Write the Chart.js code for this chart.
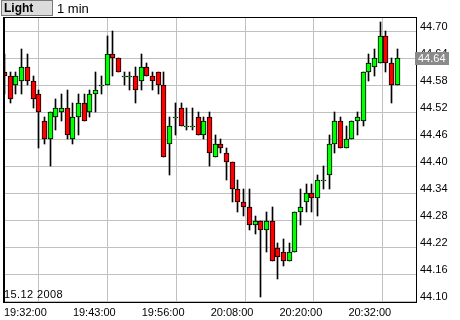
<!DOCTYPE html>
<html><head><meta charset="utf-8">
<script src="https://cdn.jsdelivr.net/npm/chart.js@4"></script>
<style>
html,body{margin:0;padding:0;background:#fff;}
#wrap{position:relative;width:460px;height:320px;overflow:hidden;background:#fff;}
#c{position:absolute;left:0;top:0;}
#btn{position:absolute;left:1px;top:0px;width:52px;height:16px;box-sizing:border-box;background:#dcdcdc;border:1px solid #7a7a7a;}
#btnText{position:absolute;left:4px;top:1px;font:bold 12px "Liberation Sans";line-height:14px;color:#000;}
#interval{position:absolute;left:57px;top:1px;font:13px "Liberation Sans";line-height:15px;color:#000;}
#date{position:absolute;left:4px;top:288px;font:11px "Liberation Sans";line-height:13px;color:#000;letter-spacing:0.4px;}
</style></head>
<body>
<div id="wrap">
<canvas id="c" width="460" height="320"></canvas>
<div id="btn"></div><div id="btnText">Light</div>
<div id="interval"></div>
<div id="date"></div>
</div>
<script>
const styleName = 'Light';
const intervalLabel = '1 min';
const dateLabel = '15.12 2008';
const timeLabels = ['19:32:00','19:43:00','19:56:00','20:08:00','20:20:00','20:32:00'];
const priceTicks = [44.10,44.16,44.22,44.28,44.34,44.40,44.46,44.52,44.58,44.64,44.70];

const open  = [44.61,44.60,44.58,44.59,44.62,44.59,44.56,44.50,44.46,44.51,44.52,44.53,44.46,44.51,44.54,44.52,44.56,44.58,44.58,44.65,
               44.64,44.60,44.60,44.60,44.59,44.62,44.60,44.61,44.58,44.45,44.51,44.53,44.49,44.49,44.51,44.47,44.51,44.42,44.45,44.43,
               44.41,44.35,44.32,44.31,44.27,44.28,44.26,44.28,44.22,44.21,44.19,44.21,44.30,44.32,44.34,44.33,44.37,44.38,44.45,44.50,
               44.44,44.46,44.50,44.50,44.61,44.62,44.63,44.69,44.63,44.58];
const high  = [44.65,44.61,44.61,44.66,44.65,44.60,44.57,44.51,44.52,44.55,44.56,44.57,44.54,44.56,44.56,44.57,44.61,44.60,44.69,44.70,
               44.64,44.61,44.61,44.62,44.65,44.63,44.61,44.61,44.61,44.51,44.54,44.54,44.53,44.53,44.52,44.51,44.52,44.47,44.46,44.44,
               44.41,44.37,44.35,44.35,44.29,44.28,44.30,44.31,44.23,44.24,44.23,44.30,44.35,44.36,44.36,44.38,44.40,44.47,44.52,44.51,
               44.49,44.50,44.52,44.61,44.65,44.66,44.72,44.70,44.64,44.66];
const low   = [44.56,44.54,44.56,44.56,44.58,44.53,44.44,44.45,44.40,44.48,44.50,44.46,44.45,44.47,44.50,44.51,44.52,44.56,44.58,44.60,
               44.61,44.58,44.57,44.54,44.57,44.60,44.57,44.56,44.42,44.38,44.47,44.49,44.48,44.48,44.47,44.46,44.40,44.42,44.43,44.37,
               44.32,44.30,44.29,44.26,44.25,44.11,44.21,44.19,44.15,44.18,44.19,44.21,44.27,44.30,44.30,44.29,44.35,44.35,44.43,44.44,
               44.44,44.46,44.47,44.49,44.59,44.60,44.63,44.61,44.54,44.58];
const close = [44.60,44.55,44.60,44.62,44.59,44.55,44.52,44.46,44.52,44.53,44.53,44.47,44.51,44.54,44.50,44.56,44.57,44.58,44.65,44.64,
               44.61,44.60,44.60,44.57,44.62,44.60,44.59,44.58,44.42,44.49,44.51,44.49,44.49,44.49,44.47,44.50,44.43,44.45,44.44,44.41,
               44.35,44.32,44.31,44.27,44.28,44.26,44.28,44.19,44.20,44.19,44.21,44.30,44.31,44.34,44.33,44.37,44.37,44.45,44.50,44.44,
               44.46,44.50,44.51,44.61,44.63,44.64,44.69,44.63,44.58,44.64];

document.getElementById('btnText').textContent = styleName;
document.getElementById('interval').textContent = intervalLabel;
document.getElementById('date').textContent = dateLabel;

const UP = '#00ff00', DOWN = '#ff0000', GRID = '#c0c0c0';
const FONT = {family: 'Liberation Sans', size: 11};
const X_MIN = -0.1, X_MAX = 72.28, GRID_STEP = 12.1;

const snap = {
  id: 'snap',
  beforeDatasetsDraw(chart) {
    chart.getSortedVisibleDatasetMetas().forEach(meta => {
      meta.data.forEach(el => {
        el.x = Math.floor(el.x) + 0.5;
        el.y = Math.round(el.y);
        el.base = Math.round(el.base);
        if (el.base === el.y) el.base = el.y + 1;
      });
    });
  },
  afterDatasetsDraw(chart) {
    const {ctx, chartArea: a} = chart;
    ctx.save();
    ctx.fillStyle = '#000';
    ctx.fillRect(a.left - 1, a.top, 2, a.bottom - a.top + 1);
    ctx.fillRect(a.left - 1, a.top, a.right - a.left + 2, 1);
    ctx.fillRect(a.right, a.top, 1, a.bottom - a.top + 1);
    ctx.fillRect(a.left - 1, a.bottom, a.right - a.left + 2, 1);
    ctx.restore();
  },
  afterDraw(chart) {
    const {ctx, chartArea: a} = chart;
    const last = close[close.length - 1];
    const py = Math.round(chart.scales.y.getPixelForValue(last));
    const txt = last.toFixed(2);
    ctx.save();
    ctx.font = '11px "Liberation Sans"';
    const w = Math.ceil(ctx.measureText(txt).width);
    ctx.fillStyle = '#8a8a8a';
    ctx.fillRect(a.right - 1, py - 6, w + 6, 13);
    ctx.fillStyle = '#fff';
    ctx.textBaseline = 'middle';
    ctx.textAlign = 'left';
    ctx.fillText(txt, a.right + 2, py + 0.5);
    ctx.restore();
  }
};

new Chart(document.getElementById('c'), {
  type: 'bar',
  data: {
    datasets: [
      {
        label: 'body',
        order: 0,
        data: open.map((o, i) => ({x: i, y: [o, close[i]]})),
        backgroundColor: ctx => (close[ctx.dataIndex] >= open[ctx.dataIndex] ? UP : DOWN),
        borderColor: '#000',
        borderWidth: 1,
        borderSkipped: false,
        barThickness: 5,
        grouped: false
      },
      {
        label: 'wick',
        order: 1,
        data: high.map((h, i) => ({x: i, y: [low[i], h]})),
        backgroundColor: '#000',
        borderWidth: 0,
        barThickness: 1,
        grouped: false
      }
    ]
  },
  options: {
    responsive: false,
    animation: false,
    events: [],
    layout: {padding: {left: 3, top: 17, right: 0, bottom: 0}},
    plugins: {legend: {display: false}, tooltip: {enabled: false}},
    scales: {
      x: {
        type: 'linear', min: X_MIN, max: X_MAX, offset: false,
        grid: {color: GRID, drawTicks: false, lineWidth: 1},
        border: {display: false},
        ticks: {autoSkip: false, maxRotation: 0, align: 'start', padding: 4, color: '#000', font: FONT,
                callback: (v, i) => timeLabels[i]},
        afterBuildTicks: s => { s.ticks = timeLabels.map((t, i) => ({value: X_MIN + i * GRID_STEP})); },
        afterFit: s => { s.height = 18; }
      },
      y: {
        position: 'right', min: 44.0989, max: 44.7322,
        grid: {color: GRID, drawTicks: false, lineWidth: 1},
        border: {display: false},
        ticks: {padding: 4, labelOffset: -5, crossAlign: 'near', color: '#000', font: FONT,
                callback: v => Number(v).toFixed(2)},
        afterBuildTicks: s => { s.ticks = priceTicks.map(v => ({value: v})); },
        afterFit: s => { s.width = 44; }
      }
    }
  },
  plugins: [snap]
});
</script>
</body></html>
